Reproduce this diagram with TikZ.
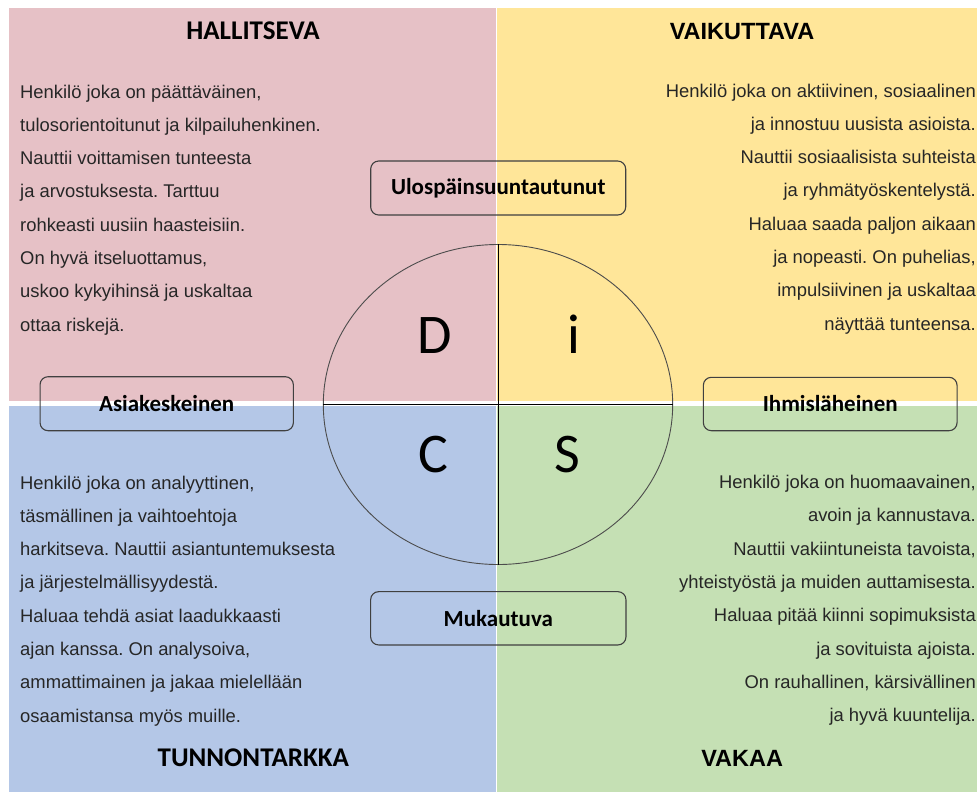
\documentclass[tikz,border=0pt]{standalone}
\usepackage{fontspec}
\setmainfont{Liberation Sans}
\newfontfamily\calfont{Carlito}
\usetikzlibrary{shapes.geometric}
\frenchspacing
\definecolor{qpink}{HTML}{E6C1C6}
\definecolor{qyellow}{HTML}{FFE699}
\definecolor{qblue}{HTML}{B4C7E7}
\definecolor{qgreen}{HTML}{C5E0B4}
\definecolor{bodytxt}{HTML}{262626}
\tikzset{
  titlecal/.style={font=\calfont\bfseries\fontsize{27}{30}\selectfont, anchor=base, inner sep=0pt},
  titlearial/.style={font=\bfseries\fontsize{23.5}{26}\selectfont, anchor=base, inner sep=0pt},
  bodyleft/.style={font=\frenchspacing\fontsize{18.4}{33.3}\selectfont, text=bodytxt, align=left, anchor=base west, inner sep=0pt},
  bodyright/.style={font=\frenchspacing\fontsize{18.4}{33.3}\selectfont, text=bodytxt, align=right, anchor=base east, inner sep=0pt},
  axisbox/.style={draw=black!75, line width=1.1pt, rounded corners=8pt, font=\calfont\bfseries\fontsize{23}{26}\selectfont, inner sep=0pt},
  bigletter/.style={font=\calfont\fontsize{56}{60}\selectfont, anchor=base, inner sep=0pt},
}
\begin{document}
\begin{tikzpicture}[x=1pt,y=-1pt]
\useasboundingbox (0,0) rectangle (977,793);
\fill[qpink] (9,7.5) rectangle (495.5,401);
\fill[qyellow] (497,7.5) rectangle (977,401);
\fill[qblue] (9,405.5) rectangle (495.5,792);
\fill[qgreen] (497,405.5) rectangle (977,792);

\node[draw=black!70, line width=0.9pt, ellipse, minimum width=349.4pt, minimum height=320pt, inner sep=0pt] (disc) at (498,404.5) {};
\draw[black, line width=0.9pt] (disc.north) -- (disc.south);
\draw[black, line width=0.9pt] (disc.west) -- (disc.east);

\node[bigletter] (D) at (435,353) {D};
\node[bigletter] (I) at (574,353) {i};
\node[bigletter] (C) at (433,472) {C};
\node[bigletter] (S) at (567,472) {S};

\node[axisbox, minimum width=255pt, minimum height=54pt] (up) at (498.2,188) {Ulospäinsuuntautunut};
\node[axisbox, minimum width=253.3pt, minimum height=54pt] (task) at (166.7,403.7) {Asiakeskeinen};
\node[axisbox, minimum width=253.7pt, minimum height=53.4pt] (people) at (830.2,404) {Ihmisläheinen};
\node[axisbox, minimum width=255.3pt, minimum height=53.3pt] (adapt) at (498.3,618.3) {Mukautuva};

\node[titlecal] (tD) at (253,39.3) {HALLITSEVA};
\node[titlearial] (tI) at (742,39) {VAIKUTTAVA};
\node[titlecal] (tC) at (253.3,766) {TUNNONTARKKA};
\node[titlearial] (tS) at (742.2,766.7) {VAKAA};

\node[bodyleft] (bD) at (20,331.1) {Henkilö joka on päättäväinen,\\tulosorientoitunut ja kilpailuhenkinen.\\Nauttii voittamisen tunteesta\\ja arvostuksesta. Tarttuu\\rohkeasti uusiin haasteisiin.\\On hyvä itseluottamus,\\uskoo kykyihinsä ja uskaltaa\\ottaa riskejä.};
\node[bodyright] (bI) at (976,330.1) {Henkilö joka on aktiivinen, sosiaalinen\\ja innostuu uusista asioista.\\Nauttii sosiaalisista suhteista\\ja ryhmätyöskentelystä.\\Haluaa saada paljon aikaan\\ja nopeasti. On puhelias,\\impulsiivinen ja uskaltaa\\näyttää tunteensa.};
\node[bodyleft] (bC) at (20,722.1) {Henkilö joka on analyyttinen,\\täsmällinen ja vaihtoehtoja\\harkitseva. Nauttii asiantuntemuksesta\\ja järjestelmällisyydestä.\\Haluaa tehdä asiat laadukkaasti\\ajan kanssa. On analysoiva,\\ammattimainen ja jakaa mielellään\\osaamistansa myös muille.};
\node[bodyright] (bS) at (976,721.6) {Henkilö joka on huomaavainen,\\avoin ja kannustava.\\Nauttii vakiintuneista tavoista,\\yhteistyöstä ja muiden auttamisesta.\\Haluaa pitää kiinni sopimuksista\\ja sovituista ajoista.\\On rauhallinen, kärsivällinen\\ja hyvä kuuntelija.};
\end{tikzpicture}
\end{document}
